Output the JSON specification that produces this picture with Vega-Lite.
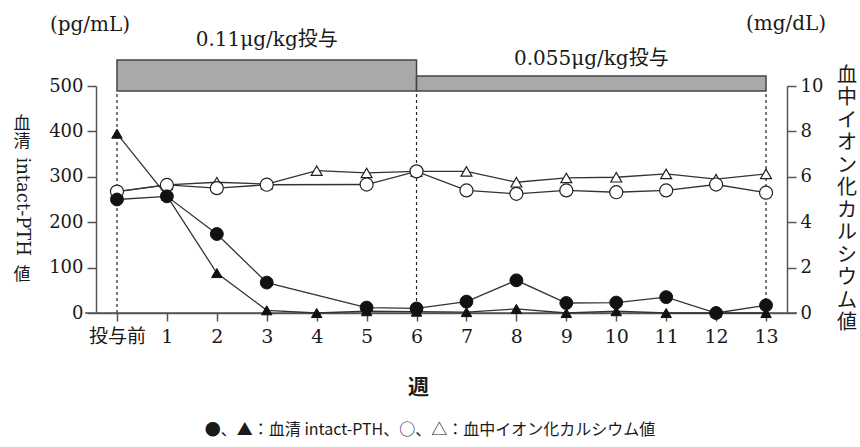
{
  "$schema": "https://vega.github.io/schema/vega-lite/v6.json",
  "width": 691,
  "height": 227,
  "autosize": {"type": "none"},
  "padding": {"left": 96, "top": 86, "right": 73, "bottom": 134},
  "background": "white",
  "config": {
    "view": {"stroke": null},
    "axis": {
      "grid": false,
      "labelFont": "DejaVu Serif, Noto Sans CJK JP",
      "labelFontSize": 18,
      "labelColor": "#1a1a1a",
      "domainColor": "#555555",
      "domainWidth": 1.5,
      "tickColor": "#555555",
      "tickWidth": 1.5,
      "tickSize": 9
    }
  },
  "datasets": {
    "obs": [
      {"week": 0, "series": "PTH●", "value": 250},
      {"week": 1, "series": "PTH●", "value": 257},
      {"week": 2, "series": "PTH●", "value": 174},
      {"week": 3, "series": "PTH●", "value": 67},
      {"week": 5, "series": "PTH●", "value": 12},
      {"week": 6, "series": "PTH●", "value": 10},
      {"week": 7, "series": "PTH●", "value": 25},
      {"week": 8, "series": "PTH●", "value": 72},
      {"week": 9, "series": "PTH●", "value": 22},
      {"week": 10, "series": "PTH●", "value": 23},
      {"week": 11, "series": "PTH●", "value": 35},
      {"week": 12, "series": "PTH●", "value": 0},
      {"week": 13, "series": "PTH●", "value": 17},
      {"week": 0, "series": "PTH▲", "value": 395},
      {"week": 1, "series": "PTH▲", "value": 258},
      {"week": 2, "series": "PTH▲", "value": 88},
      {"week": 3, "series": "PTH▲", "value": 6},
      {"week": 4, "series": "PTH▲", "value": 0},
      {"week": 5, "series": "PTH▲", "value": 4},
      {"week": 6, "series": "PTH▲", "value": 3},
      {"week": 7, "series": "PTH▲", "value": 2},
      {"week": 8, "series": "PTH▲", "value": 9},
      {"week": 9, "series": "PTH▲", "value": 0},
      {"week": 10, "series": "PTH▲", "value": 4},
      {"week": 11, "series": "PTH▲", "value": 0},
      {"week": 12, "series": "PTH▲", "value": 0},
      {"week": 13, "series": "PTH▲", "value": 0},
      {"week": 0, "series": "Ca○", "value": 5.35},
      {"week": 1, "series": "Ca○", "value": 5.64},
      {"week": 2, "series": "Ca○", "value": 5.5},
      {"week": 3, "series": "Ca○", "value": 5.65},
      {"week": 5, "series": "Ca○", "value": 5.66},
      {"week": 6, "series": "Ca○", "value": 6.24},
      {"week": 7, "series": "Ca○", "value": 5.4},
      {"week": 8, "series": "Ca○", "value": 5.25},
      {"week": 9, "series": "Ca○", "value": 5.4},
      {"week": 10, "series": "Ca○", "value": 5.32},
      {"week": 11, "series": "Ca○", "value": 5.4},
      {"week": 12, "series": "Ca○", "value": 5.66},
      {"week": 13, "series": "Ca○", "value": 5.3},
      {"week": 0, "series": "Ca△", "value": 5.35},
      {"week": 1, "series": "Ca△", "value": 5.64},
      {"week": 2, "series": "Ca△", "value": 5.76},
      {"week": 3, "series": "Ca△", "value": 5.68},
      {"week": 4, "series": "Ca△", "value": 6.27},
      {"week": 5, "series": "Ca△", "value": 6.17},
      {"week": 6, "series": "Ca△", "value": 6.24},
      {"week": 7, "series": "Ca△", "value": 6.24},
      {"week": 8, "series": "Ca△", "value": 5.76},
      {"week": 9, "series": "Ca△", "value": 5.95},
      {"week": 10, "series": "Ca△", "value": 5.98},
      {"week": 11, "series": "Ca△", "value": 6.13},
      {"week": 12, "series": "Ca△", "value": 5.9},
      {"week": 13, "series": "Ca△", "value": 6.13}
    ],
    "periods": [
      {"dose": "0.11μg/kg投与", "start": 0, "end": 6},
      {"dose": "0.055μg/kg投与", "start": 6, "end": 13}
    ],
    "boundaries": [{"week": 0}, {"week": 6}, {"week": 13}]
  },
  "layer": [
    {
      "layer": [
        {
          "data": {"name": "obs"},
          "transform": [{"filter": "datum.series == 'Ca△'"}],
          "mark": {"type": "line", "color": "#333333", "strokeWidth": 1.3},
          "encoding": {
            "x": {
              "field": "week",
              "type": "quantitative",
              "scale": {"domain": [-0.42, 13.42], "nice": false, "zero": false},
              "axis": {
                "values": [0, 1, 2, 3, 4, 5, 6, 7, 8, 9, 10, 11, 12, 13],
                "labelExpr": "datum.value == 0 ? '投与前' : datum.label",
                "tickSize": 8,
                "labelPadding": 6,
                "labelFontSize": 19,
                "title": "週",
                "titleFont": "Noto Sans CJK JP",
                "titleFontSize": 21,
                "titleFontWeight": "bold",
                "titleColor": "#1a1a1a",
                "titleX": 322,
                "titleY": 63,
                "titleBaseline": "top"
              }
            },
            "y": {
              "field": "value",
              "type": "quantitative",
              "scale": {"domain": [0, 10], "nice": false},
              "axis": {"orient": "right", "values": [0, 2, 4, 6, 8, 10], "title": null, "labelPadding": 4}
            }
          }
        },
        {
          "data": {"name": "periods"},
          "transform": [{"filter": "datum.start == 0"}],
          "mark": {"type": "rect", "fill": "#a9a9a9", "stroke": "#444444", "strokeWidth": 1.5},
          "encoding": {
            "x": {"field": "start", "type": "quantitative"},
            "x2": {"field": "end"},
            "y": {"datum": 9.78, "type": "quantitative"},
            "y2": {"datum": 11.14}
          }
        },
        {
          "data": {"name": "periods"},
          "transform": [{"filter": "datum.start == 6"}],
          "mark": {"type": "rect", "fill": "#a9a9a9", "stroke": "#444444", "strokeWidth": 1.5},
          "encoding": {
            "x": {"field": "start", "type": "quantitative"},
            "x2": {"field": "end"},
            "y": {"datum": 9.78, "type": "quantitative"},
            "y2": {"datum": 10.44}
          }
        },
        {
          "data": {"name": "boundaries"},
          "mark": {"type": "rule", "color": "#222222", "strokeWidth": 1.2, "strokeDash": [3, 3]},
          "encoding": {
            "x": {"field": "week", "type": "quantitative"},
            "y": {"datum": 0, "type": "quantitative"},
            "y2": {"datum": 9.78}
          }
        },
        {
          "data": {"values": [{}]},
          "mark": {"type": "rule", "color": "#555555", "strokeWidth": 1.5},
          "encoding": {
            "x": {"datum": -0.64, "type": "quantitative"},
            "x2": {"datum": 13.62},
            "y": {"datum": 0, "type": "quantitative"}
          }
        },
        {
          "data": {"name": "obs"},
          "transform": [{"filter": "datum.series == 'Ca○'"}],
          "mark": {"type": "line", "color": "#333333", "strokeWidth": 1.3},
          "encoding": {
            "x": {"field": "week", "type": "quantitative"},
            "y": {"field": "value", "type": "quantitative"}
          }
        },
        {
          "data": {"name": "obs"},
          "transform": [{"filter": "datum.series == 'Ca△'"}],
          "mark": {"type": "point", "shape": "triangle-up", "filled": true, "fill": "white", "stroke": "#222222", "strokeWidth": 1.2, "size": 120, "opacity": 1},
          "encoding": {
            "x": {"field": "week", "type": "quantitative"},
            "y": {"field": "value", "type": "quantitative"}
          }
        },
        {
          "data": {"name": "obs"},
          "transform": [{"filter": "datum.series == 'Ca○'"}],
          "mark": {"type": "point", "shape": "circle", "filled": true, "fill": "white", "stroke": "#222222", "strokeWidth": 1.2, "size": 170, "opacity": 1},
          "encoding": {
            "x": {"field": "week", "type": "quantitative"},
            "y": {"field": "value", "type": "quantitative"}
          }
        }
      ]
    },
    {
      "layer": [
        {
          "data": {"name": "obs"},
          "transform": [{"filter": "datum.series == 'PTH▲'"}],
          "mark": {"type": "line", "color": "#333333", "strokeWidth": 1.3},
          "encoding": {
            "x": {"field": "week", "type": "quantitative"},
            "y": {
              "field": "value",
              "type": "quantitative",
              "scale": {"domain": [0, 500], "nice": false},
              "axis": {"orient": "left", "values": [0, 100, 200, 300, 400, 500], "title": null, "labelPadding": 4}
            }
          }
        },
        {
          "data": {"name": "obs"},
          "transform": [{"filter": "datum.series == 'PTH●'"}],
          "mark": {"type": "line", "color": "#333333", "strokeWidth": 1.3},
          "encoding": {
            "x": {"field": "week", "type": "quantitative"},
            "y": {"field": "value", "type": "quantitative"}
          }
        },
        {
          "data": {"name": "obs"},
          "transform": [{"filter": "datum.series == 'PTH▲'"}],
          "mark": {"type": "point", "shape": "triangle-up", "filled": true, "fill": "#111111", "stroke": "#111111", "strokeWidth": 1, "size": 110, "opacity": 1},
          "encoding": {
            "x": {"field": "week", "type": "quantitative"},
            "y": {"field": "value", "type": "quantitative"}
          }
        },
        {
          "data": {"name": "obs"},
          "transform": [{"filter": "datum.series == 'PTH●'"}],
          "mark": {"type": "point", "shape": "circle", "filled": true, "fill": "#111111", "stroke": "#111111", "strokeWidth": 1, "size": 165, "opacity": 1},
          "encoding": {
            "x": {"field": "week", "type": "quantitative"},
            "y": {"field": "value", "type": "quantitative"}
          }
        },
        {
          "data": {"name": "periods"},
          "transform": [{"filter": "datum.start == 0"}],
          "mark": {"type": "text", "font": "DejaVu Serif, Noto Sans CJK JP", "fontSize": 20, "color": "#1a1a1a", "align": "center", "baseline": "middle"},
          "encoding": {
            "x": {"datum": 3, "type": "quantitative"},
            "y": {"datum": 601, "type": "quantitative"},
            "text": {"field": "dose"}
          }
        },
        {
          "data": {"name": "periods"},
          "transform": [{"filter": "datum.start == 6"}],
          "mark": {"type": "text", "font": "DejaVu Serif, Noto Sans CJK JP", "fontSize": 20, "color": "#1a1a1a", "align": "center", "baseline": "middle"},
          "encoding": {
            "x": {"datum": 9.5, "type": "quantitative"},
            "y": {"datum": 559, "type": "quantitative"},
            "text": {"field": "dose"}
          }
        },
        {
          "data": {"values": [{"label": "(pg/mL)"}]},
          "mark": {"type": "text", "font": "DejaVu Serif", "fontSize": 20, "color": "#1a1a1a", "align": "center", "baseline": "middle"},
          "encoding": {"x": {"datum": -0.54, "type": "quantitative"}, "y": {"datum": 634, "type": "quantitative"}, "text": {"field": "label"}}
        },
        {
          "data": {"values": [{"label": "(mg/dL)"}]},
          "mark": {"type": "text", "font": "DejaVu Serif", "fontSize": 20, "color": "#1a1a1a", "align": "center", "baseline": "middle"},
          "encoding": {"x": {"datum": 13.4, "type": "quantitative"}, "y": {"datum": 637, "type": "quantitative"}, "text": {"field": "label"}}
        },
        {
          "data": {"values": [{"label": "血\n清"}]},
          "mark": {"type": "text", "font": "Noto Sans CJK JP", "fontSize": 17, "lineHeight": 17.5, "lineBreak": "\n", "color": "#1a1a1a", "align": "center", "baseline": "top"},
          "encoding": {"x": {"datum": -1.9, "type": "quantitative"}, "y": {"datum": 433, "type": "quantitative"}, "text": {"field": "label"}}
        },
        {
          "data": {"values": [{"label": "intact-PTH"}]},
          "mark": {"type": "text", "font": "DejaVu Serif", "fontSize": 18, "angle": 90, "color": "#1a1a1a", "align": "center", "baseline": "middle"},
          "encoding": {"x": {"datum": -1.9, "type": "quantitative"}, "y": {"datum": 234, "type": "quantitative"}, "text": {"field": "label"}}
        },
        {
          "data": {"values": [{"label": "値"}]},
          "mark": {"type": "text", "font": "Noto Sans CJK JP", "fontSize": 17, "color": "#1a1a1a", "align": "center", "baseline": "middle"},
          "encoding": {"x": {"datum": -1.9, "type": "quantitative"}, "y": {"datum": 84, "type": "quantitative"}, "text": {"field": "label"}}
        },
        {
          "data": {"values": [{"label": "血\n中\nイ\nオ\nン\n化\nカ\nル\nシ\nウ\nム\n値"}]},
          "mark": {"type": "text", "font": "Noto Sans CJK JP", "fontSize": 20, "lineHeight": 22.5, "lineBreak": "\n", "color": "#1a1a1a", "align": "center", "baseline": "top"},
          "encoding": {"x": {"datum": 14.62, "type": "quantitative"}, "y": {"datum": 545, "type": "quantitative"}, "text": {"field": "label"}}
        },
        {
          "data": {"values": [{"label": "●、▲：血清 intact-PTH、○、△：血中イオン化カルシウム値"}]},
          "mark": {"type": "text", "font": "Noto Sans CJK JP, Liberation Serif", "fontSize": 16, "color": "#1a1a1a", "align": "center", "baseline": "middle"},
          "encoding": {"x": {"datum": 6.27, "type": "quantitative"}, "y": {"datum": -258, "type": "quantitative"}, "text": {"field": "label"}}
        }
      ]
    }
  ],
  "resolve": {"scale": {"y": "independent"}}
}
